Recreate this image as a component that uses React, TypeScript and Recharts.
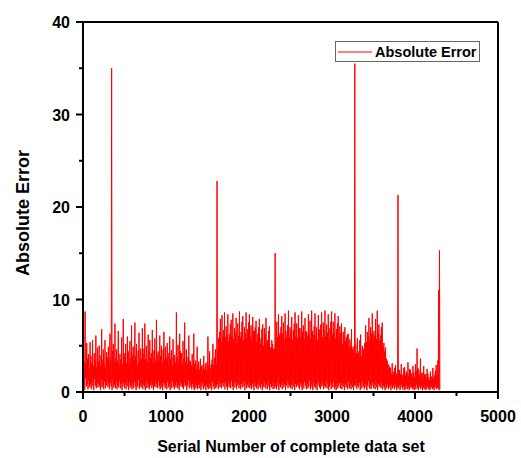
import React from "react";
import { LineChart, Line, XAxis, YAxis, ReferenceLine, Legend, Label } from "recharts";

// absolute error, one value every 5 serial numbers (0 .. 4300)
const absErr = [
  0.4, 4.5, 1.0, 3.2, 0.2, 8.7, 1.5, 2.9, 0.6, 5.3, 0.9, 3.6, 0.3, 4.1, 1.2, 2.5, 0.5, 5.4, 0.8, 3.9,
  0.3, 3.1, 1.1, 5.6, 0.6, 2.8, 0.2, 4.2, 1.4, 3.5, 0.7, 6.1, 0.4, 2.7, 1.0, 4.8, 0.5, 3.3, 0.9, 5.0,
  0.6, 4.0, 0.2, 2.9, 1.3, 6.8, 0.5, 3.4, 0.8, 4.6, 0.3, 3.0, 1.1, 5.6, 0.4, 2.6, 0.7, 4.3, 1.2, 3.7,
  0.5, 4.9, 0.9, 3.2, 0.3, 6.3, 1.0, 3.8, 0.6, 35.0, 0.2, 4.4, 1.3, 5.2, 0.5, 3.1, 0.8, 7.4, 0.4, 3.6,
  1.1, 4.6, 0.3, 3.3, 0.7, 6.6, 0.5, 2.9, 1.2, 4.1, 0.4, 3.5, 0.9, 5.9, 0.2, 3.0, 0.6, 7.9, 1.0, 4.2,
  0.4, 3.8, 0.8, 5.2, 0.3, 3.1, 1.2, 6.0, 0.6, 4.4, 0.2, 2.8, 1.0, 5.5, 0.5, 3.6, 0.7, 7.2, 0.3, 4.0,
  0.9, 4.9, 0.4, 3.4, 1.1, 7.5, 0.6, 3.9, 0.2, 5.2, 0.8, 3.0, 0.5, 4.5, 1.3, 6.4, 0.3, 3.3, 0.7, 4.7,
  0.5, 3.6, 1.0, 6.9, 0.3, 4.1, 0.8, 4.7, 0.6, 7.4, 0.2, 3.5, 1.2, 5.0, 0.4, 3.2, 0.9, 6.2, 0.5, 4.3,
  0.3, 5.6, 0.7, 3.7, 1.1, 4.2, 0.4, 6.7, 0.8, 3.1, 0.2, 4.5, 0.6, 5.8, 1.0, 3.4, 0.5, 7.8, 0.9, 4.0,
  0.4, 4.4, 1.2, 3.3, 0.6, 6.1, 0.3, 3.9, 0.9, 5.0, 0.5, 3.2, 0.2, 4.6, 1.0, 6.5, 0.7, 3.5, 0.4, 4.9,
  0.8, 3.7, 0.3, 5.3, 1.1, 3.0, 0.5, 4.2, 0.7, 6.0, 0.2, 3.6, 0.9, 4.5, 0.4, 2.9, 1.2, 5.7, 0.6, 3.8,
  0.3, 4.0, 0.8, 3.2, 0.5, 8.6, 1.0, 3.7, 0.4, 5.1, 0.7, 3.1, 0.2, 6.3, 1.1, 4.4, 0.6, 4.2, 0.9, 3.0,
  0.5, 5.5, 0.3, 3.6, 1.0, 7.5, 0.6, 3.2, 0.8, 4.6, 0.2, 3.0, 0.7, 3.8, 1.2, 6.1, 0.4, 3.4, 0.9, 3.3,
  0.6, 2.9, 0.3, 4.1, 0.9, 2.6, 0.5, 6.3, 0.2, 3.0, 1.0, 3.4, 0.4, 2.5, 0.7, 4.9, 0.3, 2.8, 0.8, 3.3,
  0.4, 2.4, 0.9, 3.6, 0.2, 2.7, 0.6, 2.9, 1.0, 2.2, 0.3, 3.9, 0.7, 2.5, 0.5, 3.1, 0.2, 2.3, 0.8, 3.2,
  0.5, 6.0, 0.3, 2.8, 0.9, 4.4, 0.4, 2.5, 0.7, 3.0, 0.2, 3.5, 1.1, 5.2, 0.6, 2.9, 0.3, 3.7, 0.8, 4.6,
  0.4, 3.1, 0.6, 22.8, 0.9, 4.5, 0.3, 5.8, 1.2, 6.5, 0.5, 7.9, 0.8, 5.4, 0.4, 8.3, 1.0, 6.0, 0.6, 6.7,
  0.9, 8.6, 0.3, 5.9, 1.1, 7.1, 0.6, 6.2, 0.2, 8.4, 1.0, 5.5, 0.5, 6.2, 0.8, 7.3, 0.4, 7.8, 1.2, 6.0,
  0.6, 8.5, 0.2, 5.7, 0.9, 6.9, 0.5, 6.4, 1.1, 8.0, 0.3, 5.3, 0.7, 7.4, 1.0, 6.1, 0.4, 8.7, 0.8, 5.9,
  0.3, 6.5, 0.9, 7.6, 0.5, 8.2, 1.2, 5.6, 0.6, 7.0, 0.2, 6.3, 1.0, 8.6, 0.4, 5.8, 0.8, 6.8, 0.5, 7.5,
  1.1, 8.4, 0.4, 6.0, 0.7, 7.2, 0.3, 5.5, 0.9, 8.1, 0.5, 6.6, 0.2, 6.6, 1.0, 7.0, 0.6, 7.7, 0.4, 5.4,
  0.8, 6.3, 0.3, 7.0, 1.1, 7.9, 0.6, 5.2, 0.4, 5.8, 0.9, 6.8, 0.2, 7.3, 0.7, 5.0, 0.5, 6.9, 1.0, 6.2,
  0.4, 8.0, 0.8, 5.3, 0.3, 5.6, 1.2, 6.6, 0.6, 7.1, 0.2, 4.8, 0.9, 4.8, 0.5, 5.6, 0.7, 5.2, 0.3, 4.6,
  1.0, 4.7, 0.4, 15.0, 0.7, 5.5, 0.3, 7.6, 1.1, 5.9, 0.6, 8.4, 0.2, 6.1, 0.9, 6.4, 0.5, 7.0, 0.8, 8.2,
  0.3, 6.3, 1.0, 7.5, 0.5, 5.7, 0.8, 8.5, 0.2, 6.6, 0.7, 6.0, 1.2, 7.2, 0.4, 8.8, 0.9, 5.9, 0.6, 7.0,
  0.4, 6.4, 0.8, 8.1, 0.3, 5.6, 1.1, 6.7, 0.6, 7.4, 0.2, 8.6, 0.9, 6.0, 0.5, 7.4, 0.7, 5.8, 1.0, 8.3,
  0.5, 6.9, 0.3, 6.9, 1.0, 5.9, 0.6, 8.7, 0.2, 6.5, 0.8, 7.2, 0.4, 5.7, 1.1, 8.0, 0.7, 6.6, 0.3, 6.5,
  0.9, 6.1, 0.4, 8.4, 0.6, 6.3, 1.2, 7.7, 0.3, 5.8, 0.8, 8.8, 0.5, 6.6, 0.2, 6.2, 1.0, 7.1, 0.6, 8.5,
  0.4, 6.0, 0.9, 7.0, 0.2, 5.6, 0.7, 8.3, 1.1, 6.8, 0.5, 6.6, 0.3, 7.3, 0.8, 8.6, 0.6, 5.9, 1.0, 7.5,
  0.3, 6.7, 0.7, 8.8, 0.5, 6.0, 1.2, 7.3, 0.4, 6.4, 0.9, 8.4, 0.2, 5.7, 0.6, 6.9, 1.0, 7.6, 0.3, 8.7,
  0.8, 6.2, 0.5, 7.6, 1.1, 6.5, 0.3, 8.5, 0.6, 5.8, 0.2, 6.8, 0.9, 7.4, 0.4, 8.2, 0.7, 6.0, 1.0, 7.1,
  0.4, 6.4, 0.8, 7.4, 0.3, 5.2, 1.0, 6.5, 0.6, 6.0, 0.2, 7.0, 0.9, 5.5, 0.5, 5.9, 0.7, 6.2, 0.3, 6.3,
  1.1, 4.8, 0.4, 5.7, 0.7, 5.0, 0.3, 6.8, 0.9, 4.6, 0.5, 4.9, 0.2, 3.9, 0.8, 35.5, 0.6, 5.1, 1.0, 4.2,
  0.3, 5.8, 0.7, 4.1, 0.5, 4.4, 1.0, 5.6, 0.2, 6.2, 0.8, 3.9, 0.4, 5.0, 1.1, 4.7, 0.6, 4.6, 0.3, 5.3,
  0.9, 7.2, 0.5, 5.4, 0.2, 6.5, 0.7, 6.0, 1.2, 8.0, 0.4, 5.6, 0.8, 7.0, 0.3, 6.3, 0.6, 8.5, 1.0, 5.8,
  0.4, 6.6, 0.8, 6.1, 0.3, 7.9, 1.1, 5.7, 0.5, 8.8, 0.2, 6.4, 0.9, 7.3, 0.6, 5.6, 0.7, 6.1, 0.4, 7.0,
  1.0, 7.5, 0.3, 4.9, 0.7, 5.3, 0.5, 4.4, 0.2, 4.8, 0.9, 3.6, 0.4, 3.4, 0.8, 3.0, 0.3, 2.9, 0.6, 2.7,
  0.5, 2.6, 0.2, 2.0, 0.8, 3.1, 0.4, 1.8, 0.7, 2.2, 0.3, 2.6, 0.9, 2.9, 0.5, 2.0, 0.2, 1.7, 0.6, 21.3,
  0.4, 2.3, 0.7, 2.4, 0.2, 1.9, 0.5, 3.0, 0.8, 1.6, 0.3, 1.9, 0.6, 2.6, 0.2, 2.7, 0.5, 1.8, 0.3, 2.2,
  0.7, 2.0, 0.3, 3.2, 0.5, 1.7, 0.2, 2.5, 0.8, 2.4, 0.4, 2.0, 0.6, 1.5, 0.3, 2.8, 0.5, 2.1, 0.2, 1.6,
  0.6, 3.0, 0.3, 2.2, 0.8, 4.7, 0.4, 2.6, 0.2, 2.4, 0.7, 1.8, 0.5, 3.6, 0.3, 2.0, 0.6, 2.1, 0.2, 1.5,
  0.5, 2.8, 0.3, 1.9, 0.7, 1.9, 0.2, 1.4, 0.4, 2.5, 0.6, 2.0, 0.3, 1.6, 0.5, 1.3, 0.2, 2.2, 0.4, 1.7,
  0.6, 1.4, 0.3, 2.6, 0.5, 1.5, 0.2, 1.8, 0.4, 2.3, 0.7, 2.9, 0.3, 1.6, 0.5, 3.4, 0.4, 11.0, 0.2, 15.3,
  0.3,
];
const STEP = 5;

const xTicks = [0, 500, 1000, 1500, 2000, 2500, 3000, 3500, 4000, 4500, 5000];
const yTicks = [0, 5, 10, 15, 20, 25, 30, 35, 40];

const data = absErr.map((v, i) => ({ serial: i * STEP, err: v }));

const FONT = "'Liberation Sans', Arial, sans-serif";

const XTick = (props: any) => {
  const { x, y, payload } = props;
  const major = payload.value % 1000 === 0;
  return (
    <g>
      <line x1={x} x2={x} y1={y} y2={y + (major ? 7 : 4)} stroke="#000" strokeWidth={2} />
      {major && (
        <text x={x} y={y + 29.5} textAnchor="middle" fontFamily={FONT} fontWeight="bold" fontSize={16} fill="#000">
          {payload.value}
        </text>
      )}
    </g>
  );
};

const YTick = (props: any) => {
  const { x, y, payload } = props;
  const major = payload.value % 10 === 0;
  return (
    <g>
      <line x1={x} x2={x - (major ? 7 : 4)} y1={y} y2={y} stroke="#000" strokeWidth={2} />
      {major && (
        <text x={x - 13} y={y + 6} textAnchor="end" fontFamily={FONT} fontWeight="bold" fontSize={16} fill="#000">
          {payload.value}
        </text>
      )}
    </g>
  );
};

const LegendBox = () => (
  <div
    style={{
      border: "1px solid #666",
      width: 143,
      height: 19,
      display: "flex",
      alignItems: "center",
      background: "#fff",
      fontFamily: FONT,
      fontWeight: "bold",
      fontSize: 14.5,
      whiteSpace: "nowrap",
      overflow: "hidden",
    }}
  >
    <svg width={39} height={19} style={{ display: "block", flex: "none" }}>
      <line x1={2} x2={36} y1={10} y2={10} stroke="#ff0000" strokeWidth={1} />
    </svg>
    <span>Absolute Error</span>
  </div>
);

export default function App() {
  return (
    <div style={{ position: "absolute", left: 0, top: 0, background: "#fff" }}>
      <LineChart width={521} height={458} data={data} margin={{ top: 22, right: 23, bottom: 26, left: 23 }}>
        <XAxis
          dataKey="serial"
          type="number"
          domain={[0, 5000]}
          ticks={xTicks}
          interval={0}
          height={40}
          tickSize={0}
          tickMargin={0}
          tick={<XTick />}
          axisLine={{ stroke: "#000", strokeWidth: 2 }}
          tickLine={false}
        >
          <Label
            content={() => (
              <text x={291} y={451.5} textAnchor="middle" fontFamily={FONT} fontWeight="bold" fontSize={16} fill="#000">
                Serial Number of complete data set
              </text>
            )}
          />
        </XAxis>
        <YAxis
          type="number"
          domain={[0, 40]}
          ticks={yTicks}
          interval={0}
          width={60}
          tickSize={0}
          tickMargin={0}
          tick={<YTick />}
          axisLine={{ stroke: "#000", strokeWidth: 2 }}
          tickLine={false}
        >
          <Label
            content={() => (
              <text
                x={28.5}
                y={213}
                transform="rotate(-90 28.5 213)"
                textAnchor="middle"
                fontFamily={FONT}
                fontWeight="bold"
                fontSize={18}
                fill="#000"
              >
                Absolute Error
              </text>
            )}
          />
        </YAxis>
        <ReferenceLine y={40} stroke="#000" strokeWidth={2} />
        <ReferenceLine x={5000} stroke="#000" strokeWidth={2} />
        <Line
          type="linear"
          dataKey="err"
          name="Absolute Error"
          stroke="#ff0000"
          strokeWidth={1}
          dot={false}
          isAnimationActive={false}
        />
        <Legend
          layout="horizontal"
          verticalAlign="middle"
          align="center"
          content={() => <LegendBox />}
          wrapperStyle={{ position: "absolute", top: 41, left: 335, width: 145, bottom: "auto" }}
        />
      </LineChart>
    </div>
  );
}
